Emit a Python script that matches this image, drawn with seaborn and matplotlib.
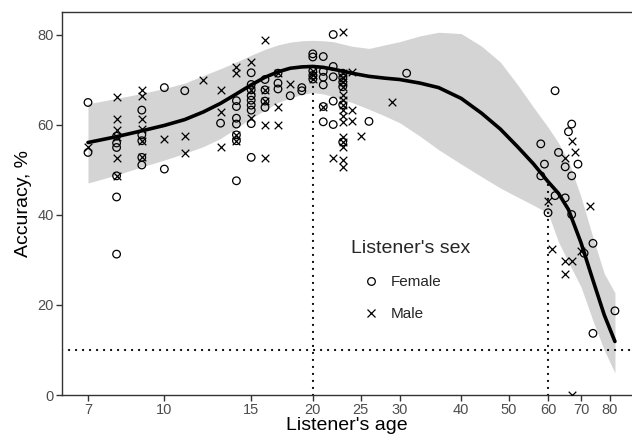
import numpy as np
import pandas as pd
import matplotlib
matplotlib.use("Agg")
import matplotlib.pyplot as plt
from matplotlib.lines import Line2D
import seaborn as sns

# ---------------- data ----------------
female_age = [7, 7,
              8, 8, 8, 8, 8, 8,
              9, 9, 9, 9, 9,
              10, 10, 11, 13,
              14, 14, 14, 14, 14, 14, 14,
              15, 15, 15, 15, 15, 15, 15, 15, 15,
              16, 16, 16, 16,
              17, 17, 17, 18, 19, 19,
              20, 20, 20, 20, 20,
              21, 21, 21, 21, 21, 21,
              22, 22, 22, 22, 22,
              23, 23, 23, 23, 23, 23,
              26, 31,
              58, 58, 59, 60, 62, 62, 63, 65, 65, 66, 67, 67, 67, 69, 71, 74, 74, 82]
female_acc = [65.0, 53.9,
              57.5, 56.0, 55.0, 48.7, 44.0, 31.3,
              63.3, 57.8, 56.5, 52.8, 51.1,
              68.3, 50.2, 67.6, 60.4,
              65.4, 64.1, 61.5, 60.2, 57.8, 56.5, 47.6,
              71.6, 69.0, 67.8, 66.5, 65.5, 64.4, 63.3, 60.3, 52.8,
              70.1, 67.8, 65.3, 63.9,
              71.5, 69.3, 68.0, 66.5, 68.3, 67.6,
              75.8, 75.1, 72.0, 71.0, 70.2,
              75.2, 71.9, 70.6, 68.9, 64.1, 60.7,
              80.1, 73.0, 70.7, 65.3, 60.1,
              71.5, 70.5, 69.5, 68.5, 64.5, 56.2,
              60.8, 71.5,
              55.8, 48.7, 51.3, 40.5, 67.6, 44.3, 53.9, 50.7, 43.8, 58.5, 60.2, 48.7, 40.1, 51.3, 31.5, 33.7, 13.7, 18.7]

male_age = [7,
            8, 8, 8, 8, 8, 8,
            9, 9, 9, 9, 9, 9,
            10, 11, 11, 12,
            13, 13, 13,
            14, 14, 14, 14,
            15, 15, 15,
            16, 16, 16, 16, 16,
            17, 17, 17, 18,
            20, 20, 20, 21, 22,
            23, 23, 23, 23, 23, 23, 23, 23, 23, 23, 23, 23, 23, 23, 23, 23,
            24, 24, 24, 25, 29,
            60, 61, 65, 65, 65, 67, 67, 67, 68, 70, 73]
male_acc = [55.2,
            66.3, 61.3, 58.9, 57.3, 52.6, 48.7,
            67.8, 66.5, 61.3, 59.0, 56.5, 52.8,
            56.9, 57.6, 53.7, 70.1,
            67.7, 62.8, 55.2,
            72.9, 71.6, 57.8, 56.5,
            73.9, 67.8, 61.5,
            78.9, 67.8, 65.3, 60.0, 52.6,
            71.5, 63.9, 60.0, 69.0,
            72.0, 71.0, 70.2, 64.1, 52.6,
            80.7, 71.5, 70.5, 69.5, 68.5, 66.7, 65.5, 64.5, 63.3, 62.0, 60.7, 57.3, 56.2, 55.2, 52.2, 50.7,
            71.8, 63.3, 60.8, 57.6, 65.0,
            43.2, 32.4, 52.6, 29.8, 26.9, 56.4, 29.8, 0.0, 53.9, 32.0, 42.0]

# smooth fit and its confidence band
fit_age = [7, 8, 9, 10, 11, 12, 13, 14, 15, 16, 17, 18, 19, 20, 21, 22, 24, 26, 28, 30,
           33, 36, 40, 44, 48, 52, 56, 60, 63, 66, 70, 74, 78, 82]
fit_mid = [56.1, 57.4, 58.7, 59.9, 61.2, 62.9, 64.8, 66.9, 68.9, 70.6, 71.8, 72.6, 72.9, 73.0,
           72.8, 72.4, 71.5, 70.8, 70.4, 70.1, 69.3, 68.3, 65.9, 62.6, 59.1, 55.2, 51.4, 47.4,
           44.8, 41.2, 33.8, 25.5, 17.8, 11.9]
fit_hi = [64.7, 65.9, 67.0, 68.1, 69.3, 71.0, 72.5, 74.0, 75.5, 76.8, 77.8, 78.4, 78.7, 78.8,
          78.7, 78.5, 77.5, 77.0, 77.8, 78.5, 79.8, 80.6, 80.3, 77.5, 74.0, 69.0, 64.0, 59.5,
          56.0, 52.0, 44.0, 35.0, 27.0, 22.7]
fit_lo = [47.1, 48.9, 50.7, 52.2, 53.7, 55.2, 57.0, 59.3, 61.5, 63.3, 65.0, 66.0, 66.8, 67.2,
          66.9, 66.3, 65.0, 63.5, 62.0, 60.5, 57.5, 54.5, 51.3, 48.5, 46.0, 44.0, 42.2, 40.4,
          34.0, 29.5, 24.0, 16.5, 10.0, 4.9]

marker_ages = [20, 60]
chance_level = 10

x_ticks = [7, 10, 15, 20, 25, 30, 40, 50, 60, 70, 80]
y_ticks = [0, 20, 40, 60, 80]

# ---------------- plotting ----------------
sns.set_theme(style="white")
plt.rcParams['font.family'] = ['Liberation Sans', 'DejaVu Sans']

fig = plt.figure(figsize=(6.32, 4.40), dpi=100)
ax = fig.add_axes([62/632, 1 - 395/440, 1 - 62/632, (395 - 12)/440])

fit_df = pd.DataFrame({"age": fit_age, "mid": fit_mid, "lo": fit_lo, "hi": fit_hi})
ax.fill_between(fit_df["age"], fit_df["lo"], fit_df["hi"], color="#d4d4d4", lw=0, zorder=1)

# dotted reference lines
dot_style = dict(color="black", lw=1.6, ls=(0, (0.05, 3.1)), dash_capstyle="round",
                 solid_capstyle="round", zorder=2)
for a in marker_ages:
    top = fit_df.loc[fit_df["age"] == a, "mid"].iloc[0]
    ax.plot([a, a], [0, top], **dot_style)
ax.axhline(chance_level, **dot_style)

fem = pd.DataFrame({"age": female_age, "acc": female_acc})
mal = pd.DataFrame({"age": male_age, "acc": male_acc})
sns.scatterplot(data=fem, x="age", y="acc", marker="o", s=30, facecolor="none",
                edgecolor="black", linewidth=0.9, ax=ax, zorder=3, legend=False)
sns.scatterplot(data=mal, x="age", y="acc", marker="x", s=30, color="black",
                linewidth=0.9, ax=ax, zorder=3, legend=False)

sns.lineplot(data=fit_df, x="age", y="mid", color="black", lw=2.6, ax=ax, zorder=4)

ax.set_xscale("log")
ax.set_xlim(6.2, 88.8)
ax.set_ylim(0, 85.1)
ax.set_xticks(x_ticks)
ax.set_xticklabels([str(t) for t in x_ticks])
ax.xaxis.set_minor_locator(matplotlib.ticker.NullLocator())
ax.set_yticks(y_ticks)
ax.set_yticklabels([str(t) for t in y_ticks])

ax.tick_params(axis="both", which="major", length=4, width=1, color="#333333",
               labelcolor="#4d4d4d", labelsize=10.5, pad=2, bottom=True, left=True)
ax.set_xlabel("Listener's age", fontsize=14, color="black", labelpad=0)
ax.set_ylabel("Accuracy, %", fontsize=14, color="black", labelpad=4)

for side in ["left", "bottom", "top"]:
    ax.spines[side].set_visible(True)
    ax.spines[side].set_color("#333333")
    ax.spines[side].set_linewidth(1)
ax.spines["right"].set_visible(False)

handles = [Line2D([], [], marker="o", ls="none", markerfacecolor="none",
                  markeredgecolor="black", markersize=5.5, markeredgewidth=0.9),
           Line2D([], [], marker="x", ls="none", color="black",
                  markersize=5.5, markeredgewidth=0.9)]
leg = ax.legend(handles, ["Female", "Male"], title="Listener's sex",
                loc="upper left", bbox_to_anchor=(341/632, 1 - 230/440),
                bbox_transform=fig.transFigure, frameon=False, fontsize=11,
                title_fontsize=14, labelspacing=1.18, handlelength=2.6,
                handletextpad=0.0, borderpad=0.68, borderaxespad=0)
leg._legend_box.align = "left"

fig.savefig("out.png", dpi=100)
